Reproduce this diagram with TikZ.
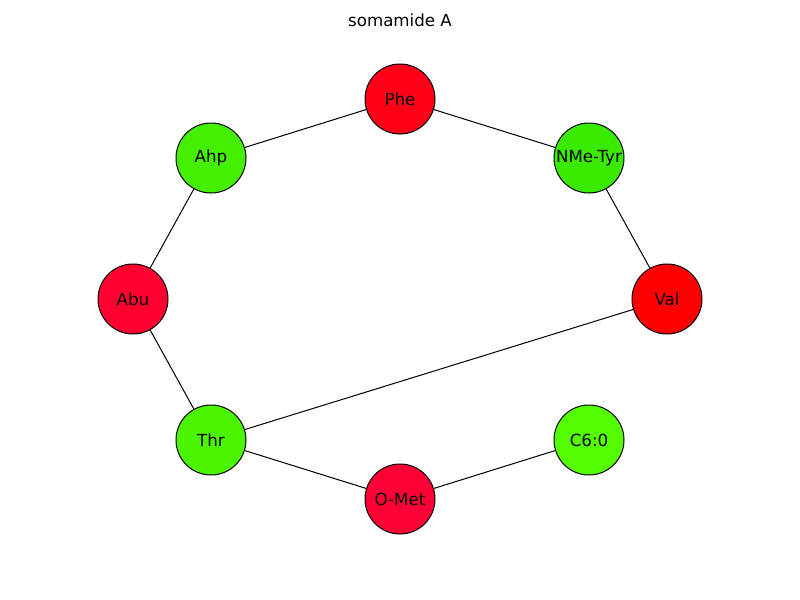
\documentclass[tikz,border=0pt]{standalone}
\usepackage{fontspec}
\setmainfont{DejaVu Sans}
\definecolor{cPhe}{HTML}{FF0018}
\definecolor{cAhp}{HTML}{44F000}
\definecolor{cTyr}{HTML}{3AEB00}
\definecolor{cAbu}{HTML}{FF0030}
\definecolor{cVal}{HTML}{FF0000}
\definecolor{cThr}{HTML}{4CF500}
\definecolor{cC6}{HTML}{55FF00}
\definecolor{cMet}{HTML}{FF0036}
\begin{document}
\begin{tikzpicture}[x=0.75pt,y=-0.75pt,
  res/.style={circle,draw=black,line width=0.75pt,minimum size=52.5pt,inner sep=0pt,font=\fontsize{12.5}{14}\selectfont},
  bond/.style={draw=black,line width=0.75pt}]
\useasboundingbox (0,0) rectangle (800,600);
\node[font=\fontsize{12.5}{14}\selectfont] (title) at (400,20) {somamide A};
\node[res,fill=cPhe] (phe) at (400,99) {Phe};
\node[res,fill=cAhp] (ahp) at (211,158) {Ahp};
\node[res,fill=cTyr] (tyr) at (589,158) {NMe-Tyr};
\node[res,fill=cAbu] (abu) at (133,299) {Abu};
\node[res,fill=cVal] (val) at (667,299) {Val};
\node[res,fill=cThr] (thr) at (211,440) {Thr};
\node[res,fill=cC6] (c6) at (589,440) {C6:0};
\node[res,fill=cMet] (met) at (400,499) {O-Met};
\draw[bond] (phe) -- (ahp);
\draw[bond] (phe) -- (tyr);
\draw[bond] (ahp) -- (abu);
\draw[bond] (tyr) -- (val);
\draw[bond] (abu) -- (thr);
\draw[bond] (thr) -- (val);
\draw[bond] (thr) -- (met);
\draw[bond] (met) -- (c6);
\end{tikzpicture}
\end{document}
